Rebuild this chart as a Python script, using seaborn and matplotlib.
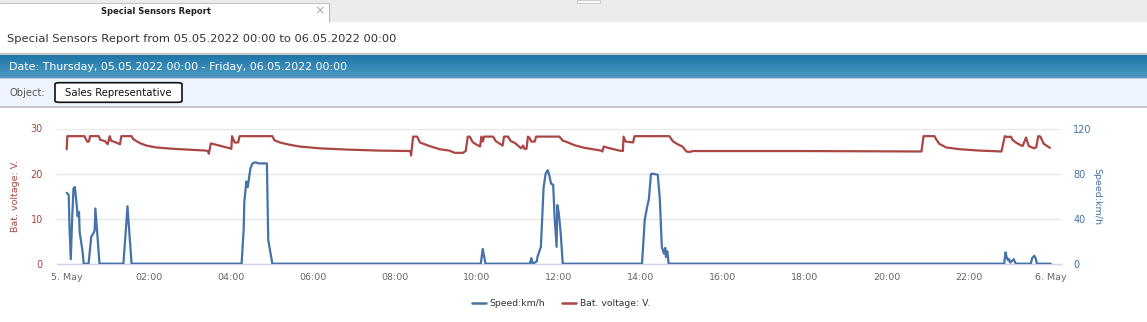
import numpy as np
import pandas as pd
import matplotlib
matplotlib.use("Agg")
import matplotlib.pyplot as plt
from matplotlib.patches import Rectangle, FancyBboxPatch
from matplotlib.colors import LinearSegmentedColormap
from matplotlib.lines import Line2D
import seaborn as sns

# ---------------- data (minutes from 05.05.2022 00:00) ----------------
volt_minutes = [0, 1, 26, 29, 31, 33, 34, 47, 49, 56, 60, 63, 65, 72, 78, 80, 95, 97, 102, 108,
                117, 131, 155, 180, 204, 207, 208, 211, 224, 239, 241, 242, 246, 251, 253, 301,
                304, 312, 326, 341, 370, 414, 458, 503, 504, 507, 513, 517, 531, 546, 560, 568,
                580, 584, 587, 590, 594, 600, 605, 607, 609, 611, 624, 628, 636, 638, 640, 646,
                650, 656, 665, 668, 670, 673, 675, 677, 680, 685, 687, 721, 726, 732, 743, 758,
                770, 782, 784, 786, 795, 809, 814, 815, 818, 829, 831, 882, 887, 893, 901, 907,
                912, 916, 926, 1073, 1219, 1251, 1254, 1270, 1273, 1277, 1287, 1307, 1336, 1368,
                1373, 1377, 1382, 1384, 1390, 1399, 1404, 1408, 1416, 1419, 1422, 1425, 1430, 1439]
volt_values = [25.4, 28.3, 28.3, 27.4, 27.0, 27.3, 28.3, 28.3, 27.5, 27.2, 26.5, 28.3, 27.3, 26.9,
               26.5, 28.3, 28.3, 27.7, 27.2, 26.7, 26.2, 25.8, 25.5, 25.3, 25.1, 25.0, 24.4, 26.7,
               26.2, 25.6, 25.5, 28.3, 26.9, 26.9, 28.3, 28.3, 27.4, 26.9, 26.4, 26.0, 25.6, 25.3,
               25.1, 25.0, 24.0, 28.2, 28.2, 26.9, 26.1, 25.4, 25.1, 24.6, 24.6, 25.0, 28.2, 28.2,
               27.0, 26.4, 26.0, 28.2, 27.1, 28.2, 28.2, 27.2, 26.4, 26.2, 28.2, 28.2, 27.2, 26.8,
               25.6, 26.2, 25.5, 25.5, 28.2, 28.0, 27.1, 27.1, 28.2, 28.2, 27.3, 27.0, 26.3, 25.7,
               25.4, 25.1, 24.9, 26.0, 25.6, 25.1, 25.0, 28.2, 27.1, 26.9, 28.3, 28.3, 27.2, 26.6,
               26.0, 24.9, 24.8, 25.0, 25.0, 25.0, 24.9, 24.9, 28.3, 28.3, 27.5, 26.6, 25.8, 25.4,
               25.1, 24.9, 28.3, 28.1, 28.2, 27.5, 26.8, 26.1, 28.0, 26.1, 25.6, 25.9, 28.3, 28.2,
               26.6, 25.7]

speed_minutes = [0, 3, 4, 6, 8, 10, 12, 15, 16, 18, 19, 23, 25, 32, 36, 40, 41, 42, 45, 48, 83, 86,
                 89, 92, 95, 256, 259, 260, 263, 265, 269, 272, 276, 281, 293, 295, 301, 606, 608,
                 609, 611, 613, 678, 680, 682, 688, 689, 694, 698, 701, 704, 706, 709, 712, 714,
                 717, 718, 720, 723, 726, 842, 846, 850, 852, 855, 856, 865, 868, 871, 874, 876,
                 877, 879, 881, 1372, 1374, 1376, 1378, 1379, 1381, 1386, 1389, 1411, 1413, 1416,
                 1418, 1420, 1440]
speed_values = [63, 61, 35, 4, 40, 67, 68, 50, 42, 46, 28, 12, 0, 0, 24, 28, 30, 49, 25, 0, 0, 25,
                51, 25, 0, 0, 30, 55, 73, 68, 85, 89, 90, 89, 89, 21, 0, 0, 9, 13, 6, 0, 0, 5, 0,
                2, 6, 15, 68, 80, 83, 79, 71, 70, 42, 15, 52, 46, 27, 0, 0, 39, 52, 57, 79, 80, 79,
                58, 15, 9, 14, 6, 11, 0, 0, 10, 5, 3, 4, 1, 4, 0, 0, 5, 7, 5, 0, 0]

tick_minutes = [0, 120, 240, 360, 480, 600, 720, 840, 960, 1080, 1200, 1320, 1440]
tick_labels = ["5. May", "02:00", "04:00", "06:00", "08:00", "10:00", "12:00", "14:00",
               "16:00", "18:00", "20:00", "22:00", "6. May"]
left_ticks = [0, 10, 20, 30]
right_ticks = [0, 40, 80, 120]

report_title = "Special Sensors Report"
header_text = "Special Sensors Report from 05.05.2022 00:00 to 06.05.2022 00:00"
date_text = "Date: Thursday, 05.05.2022 00:00 - Friday, 06.05.2022 00:00"
object_label = "Object:"
object_name = "Sales Representative"
speed_name = "Speed:km/h"
volt_name = "Bat. voltage: V."

RED = "#AA4643"
BLUE = "#4572A7"

volt_df = pd.DataFrame({"minute": volt_minutes, "value": volt_values})
speed_df = pd.DataFrame({"minute": speed_minutes, "value": speed_values})

# ---------------- figure ----------------
sns.set_style("white")
plt.rcParams["font.family"] = ["DejaVu Sans"]

W, H = 1147, 322
fig = plt.figure(figsize=(W / 100, H / 100), dpi=100)
fig.patch.set_facecolor("white")


def fx(x):
    return x / W


def fy(y):
    return 1 - y / H


def rect(x0, y0, x1, y1, **kw):
    fig.add_artist(Rectangle((fx(x0), fy(y1)), (x1 - x0) / W, (y1 - y0) / H,
                             transform=fig.transFigure, **kw))


def hline(x0, x1, y, **kw):
    fig.add_artist(Line2D([fx(x0), fx(x1)], [fy(y), fy(y)], transform=fig.transFigure, **kw))


def vline(x, y0, y1, **kw):
    fig.add_artist(Line2D([fx(x), fx(x)], [fy(y0), fy(y1)], transform=fig.transFigure, **kw))


# tab strip
rect(0, 0, W, 22, facecolor="#ececec", edgecolor="none")
rect(0, 2.5, 329, 23, facecolor="white", edgecolor="none")
hline(0, 328, 2.5, color="#c4c4c4", linewidth=0.8)
vline(329, 3, 22, color="#b8b8b8", linewidth=0.8)
rect(577, 0, 600, 3, facecolor="#f6f6f6", edgecolor="#c8c8c8", linewidth=0.6)
fig.text(fx(156), fy(12), report_title, ha="center", va="center", fontsize=6.0,
         fontweight="bold", color="#222222")
fig.text(fx(320), fy(11), "\u00d7", ha="center", va="center", fontsize=9, color="#a8a8a8")

# header line
fig.text(fx(7), fy(39), header_text, ha="left", va="center", fontsize=8.25, color="#333333")
rect(0, 53.5, W, 55, facecolor="#c8c8c8", edgecolor="none")

# blue gradient band
band = fig.add_axes([0, fy(78), 1, 23 / H])
band.imshow(np.linspace(0, 1, 60).reshape(-1, 1), aspect="auto",
            cmap=LinearSegmentedColormap.from_list("band", ["#1f76a7", "#4f9bc3"]),
            extent=[0, 1, 0, 1])
band.set_axis_off()
fig.text(fx(9), fy(67), date_text, ha="left", va="center", fontsize=7.9, color="white")

# object band
rect(0, 78, W, 107, facecolor="#edf4fd", edgecolor="none")
rect(0, 77.5, W, 78.5, facecolor="#c6d3dd", edgecolor="none")
rect(0, 106.5, W, 108, facecolor="#c8c8cc", edgecolor="none")
fig.text(fx(9), fy(92.5), object_label, ha="left", va="center", fontsize=7.2, color="#555555")
fig.add_artist(FancyBboxPatch((fx(55), fy(102.3)), (182 - 55) / W, (102.3 - 82.7) / H,
                              boxstyle="round,pad=0,rounding_size=0.004",
                              transform=fig.transFigure, facecolor="white",
                              edgecolor="#111111", linewidth=1.2))
fig.text(fx(118.5), fy(92.5), object_name, ha="center", va="center", fontsize=7.3, color="#111111")

# ---------------- chart ----------------
ax_left, ax_right = 56.7, 1060.6
ax_top, ax_bottom = 128.5, 263.7
ax = fig.add_axes([fx(ax_left), fy(ax_bottom), (ax_right - ax_left) / W, (ax_bottom - ax_top) / H])
ax2 = ax.twinx()

sns.lineplot(data=volt_df, x="minute", y="value", ax=ax, color=RED, linewidth=1.6)
sns.lineplot(data=speed_df, x="minute", y="value", ax=ax2, color=BLUE, linewidth=1.6)

pad = 14.6
for a in (ax, ax2):
    a.set_xlim(tick_minutes[0] - pad, tick_minutes[-1] + pad)
    a.set_facecolor("none")
    for s in a.spines.values():
        s.set_visible(False)

ax.set_ylim(left_ticks[0], left_ticks[-1])
ax2.set_ylim(right_ticks[0], right_ticks[-1])
ax.set_yticks(left_ticks)
ax2.set_yticks(right_ticks)
ax.set_yticklabels([str(v) for v in left_ticks])
ax2.set_yticklabels([str(v) for v in right_ticks])
ax.yaxis.grid(True, color="#e6e6e6", linewidth=1.0)
ax.set_axisbelow(True)
ax2.grid(False)

ax.set_xticks(tick_minutes)
ax.set_xticklabels(tick_labels)
ax.tick_params(axis="x", direction="out", length=4.5, width=0.8, color="#ccd6eb",
               labelsize=6.8, labelcolor="#666666", pad=2)
ax.tick_params(axis="y", length=0, labelsize=7, labelcolor=RED, pad=10)
ax2.tick_params(axis="y", length=0, labelsize=7, labelcolor=BLUE, pad=9)
ax.spines["bottom"].set_visible(True)
ax.spines["bottom"].set_color("#ccd6eb")
ax.spines["bottom"].set_linewidth(1.0)

ax.set_xlabel("")
ax.set_ylabel(volt_name, color=RED, fontsize=6.8)
ax2.set_ylabel(speed_name, color=BLUE, fontsize=6.8, rotation=270, va="bottom")
ax.yaxis.set_label_coords(-0.0366, 0.5)
ax2.yaxis.set_label_coords(1.036, 0.5)
ax2.yaxis.label.set_va("center")

handles = [Line2D([], [], color=BLUE, linewidth=1.8),
           Line2D([], [], color=RED, linewidth=1.8)]
fig.legend(handles, [speed_name, volt_name], loc="center", ncol=2, frameon=False,
           bbox_to_anchor=(fx(561), fy(304)), fontsize=6.7, handlelength=1.5,
           handletextpad=0.4, columnspacing=1.8, labelcolor="#333333")

fig.savefig("out.png", dpi=100)
